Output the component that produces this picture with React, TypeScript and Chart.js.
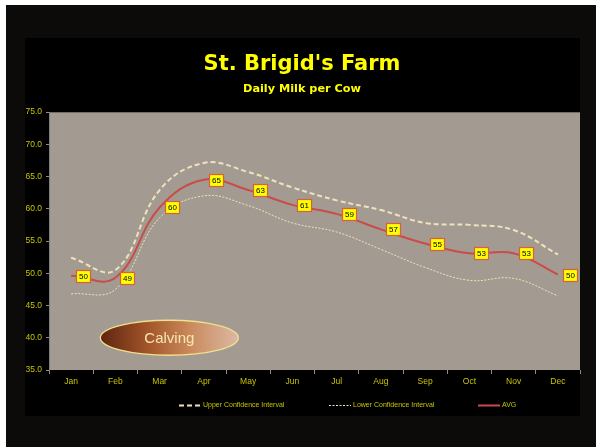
import React, { useEffect, useRef } from "react";
import { Chart, registerables } from "chart.js";

Chart.register(...registerables);

// ---- data ----
const months = ["Jan", "Feb", "Mar", "Apr", "May", "Jun", "Jul", "Aug", "Sep", "Oct", "Nov", "Dec"];
const upperCI = [52.4, 50.5, 62.9, 67.1, 65.7, 63.3, 61.3, 59.8, 57.8, 57.5, 56.7, 52.9];
const lowerCI = [46.8, 47.5, 58.6, 62.0, 60.5, 57.8, 56.4, 53.7, 50.9, 48.9, 49.2, 46.5];
const avgMilk = [49.6, 49.3, 60.2, 64.5, 62.9, 60.6, 59.2, 56.8, 54.6, 53.1, 53.1, 49.8];
const seriesNames = ["Upper Confidence Interval", "Lower Confidence Interval", "AVG"];
const yMin = 35;
const yMax = 75;
const yStep = 5;
const chartTitle = "St. Brigid's Farm";
const chartSubtitle = "Daily Milk per Cow";
const noteText = "Calving";
const notePos = { x: 2.22, y: 40 }; // category index / value

const W = 596;
const H = 447;
const TEXT_YELLOW = "#c8c400";
const CREAM = "#f2e2bc";
const RED = "#c94c4a";
const SANS = '"Liberation Sans", Arial, sans-serif';
const TITLE_FONT = '"DejaVu Sans", "Noto Sans", sans-serif';

function fitFontSize(ctx: CanvasRenderingContext2D, text: string, family: string, weight: string, target: number) {
  ctx.font = `${weight} 20px ${family}`;
  const w = ctx.measureText(text).width;
  return (20 * target) / w;
}

const framePlugin = {
  id: "frame",
  beforeDraw(chart: any) {
    const { ctx, chartArea: a } = chart;
    ctx.save();
    ctx.fillStyle = "#ffffff";
    ctx.fillRect(0, 0, W, H);
    ctx.fillStyle = "#0c0b09";
    ctx.fillRect(6, 5, W - 6, H - 5);
    ctx.fillStyle = "#000000";
    ctx.fillRect(25, 38, 555, 378);
    ctx.fillStyle = "#a39b91";
    ctx.fillRect(a.left, a.top, a.right - a.left, a.bottom - a.top);
    ctx.strokeStyle = "#6f6b66";
    ctx.lineWidth = 1;
    ctx.beginPath();
    ctx.moveTo(a.left, a.top + 0.5);
    ctx.lineTo(a.right, a.top + 0.5);
    ctx.stroke();

    // titles
    ctx.fillStyle = "#ffff00";
    ctx.textAlign = "center";
    ctx.textBaseline = "middle";
    let s = fitFontSize(ctx, chartTitle, TITLE_FONT, "bold", 197);
    ctx.font = `bold ${s}px ${TITLE_FONT}`;
    ctx.fillText(chartTitle, 302, 65);
    s = fitFontSize(ctx, chartSubtitle, TITLE_FONT, "bold", 118);
    ctx.font = `bold ${s}px ${TITLE_FONT}`;
    ctx.fillText(chartSubtitle, 302, 89);
    ctx.restore();
  },
  beforeDatasetsDraw(chart: any) {
    const { ctx } = chart;
    const xs = chart.scales.x;
    const ys = chart.scales.y;
    const cx = xs.getPixelForValue(notePos.x);
    const cy = ys.getPixelForValue(notePos.y);
    const rx = 69;
    const ry = 17.5;
    ctx.save();
    const g = ctx.createLinearGradient(cx - rx, 0, cx + rx, 0);
    g.addColorStop(0, "#5e2410");
    g.addColorStop(0.35, "#a4562a");
    g.addColorStop(0.65, "#c98a5c");
    g.addColorStop(1, "#dcb9a6");
    ctx.beginPath();
    ctx.ellipse(cx, cy, rx, ry, 0, 0, Math.PI * 2);
    ctx.fillStyle = g;
    ctx.fill();
    ctx.strokeStyle = "#f0e08c";
    ctx.lineWidth = 1.3;
    ctx.stroke();
    ctx.fillStyle = "#f6e7b2";
    ctx.font = `15px ${SANS}`;
    ctx.textAlign = "center";
    ctx.textBaseline = "middle";
    ctx.fillText(noteText, cx, cy + 1);
    ctx.restore();
  },
  afterDatasetsDraw(chart: any) {
    const { ctx } = chart;
    const meta = chart.getDatasetMeta(2);
    const data = chart.data.datasets[2].data as number[];
    ctx.save();
    ctx.font = `8px ${SANS}`;
    ctx.textAlign = "center";
    ctx.textBaseline = "middle";
    meta.data.forEach((pt: any, i: number) => {
      const txt = String(Math.round(data[i]));
      const tw = ctx.measureText(txt).width;
      const bw = Math.round(tw + 5);
      const bh = 12;
      const x0 = Math.round(pt.x + 5) + 0.5;
      const y0 = Math.round(pt.y - bh / 2) + 0.5;
      ctx.fillStyle = "#ffff00";
      ctx.fillRect(x0, y0, bw, bh);
      ctx.strokeStyle = "#d8603e";
      ctx.lineWidth = 1.2;
      ctx.strokeRect(x0, y0, bw, bh);
      ctx.fillStyle = "#000000";
      ctx.fillText(txt, x0 + bw / 2, y0 + bh / 2 + 0.5);
    });
    ctx.restore();
  },
  afterDraw(chart: any) {
    const { ctx } = chart;
    const starts = [179, 329, 478];
    const y = 405.5;
    ctx.save();
    chart.data.datasets.forEach((ds: any, i: number) => {
      const x = starts[i];
      ctx.strokeStyle = ds.borderColor;
      ctx.lineWidth = ds.borderWidth;
      ctx.setLineDash(ds.borderDash || []);
      ctx.beginPath();
      ctx.moveTo(x, y);
      ctx.lineTo(x + 22, y);
      ctx.stroke();
      ctx.setLineDash([]);
      ctx.fillStyle = TEXT_YELLOW;
      ctx.font = `7px ${SANS}`;
      ctx.textAlign = "left";
      ctx.textBaseline = "middle";
      ctx.fillText(ds.label, x + 24, y);
    });
    ctx.restore();
  },
};

export default function App() {
  const ref = useRef<HTMLCanvasElement | null>(null);

  useEffect(() => {
    if (!ref.current) return;
    const chart = new Chart(ref.current, {
      type: "line",
      data: {
        labels: months,
        datasets: [
          {
            label: seriesNames[0],
            data: upperCI,
            borderColor: CREAM,
            borderWidth: 2,
            borderDash: [5, 3],
            pointRadius: 0,
            tension: 0.4,
            fill: false,
          },
          {
            label: seriesNames[1],
            data: lowerCI,
            borderColor: CREAM,
            borderWidth: 1,
            borderDash: [2, 1.5],
            pointRadius: 0,
            tension: 0.4,
            fill: false,
          },
          {
            label: seriesNames[2],
            data: avgMilk,
            borderColor: RED,
            borderWidth: 2,
            pointRadius: 0,
            tension: 0.4,
            fill: false,
          },
        ],
      },
      options: {
        responsive: false,
        animation: false,
        devicePixelRatio: 1,
        layout: { padding: { left: 25, right: 16, top: 112, bottom: 47 } },
        plugins: {
          legend: { display: false },
          title: { display: false },
          tooltip: { enabled: false },
        },
        scales: {
          x: {
            type: "category",
            offset: true,
            grid: {
              display: true,
              offset: true,
              drawOnChartArea: false,
              drawTicks: true,
              tickLength: 4,
              color: "#8a8a8a",
            },
            border: { display: false },
            ticks: {
              color: TEXT_YELLOW,
              font: { size: 8.5, family: SANS },
              padding: 3,
              maxRotation: 0,
              autoSkip: false,
            },
            afterFit(scale: any) {
              scale.height = 30;
            },
          },
          y: {
            min: yMin,
            max: yMax,
            grid: {
              display: true,
              drawOnChartArea: false,
              drawTicks: true,
              tickLength: 3,
              color: "#8a8a8a",
            },
            border: { display: true, color: "#7e7e7e", width: 1 },
            ticks: {
              stepSize: yStep,
              color: TEXT_YELLOW,
              font: { size: 8.5, family: SANS },
              padding: 4,
              callback: (v: any) => Number(v).toFixed(1),
            },
            afterFit(scale: any) {
              scale.width = 24;
            },
          },
        },
      },
      plugins: [framePlugin],
    });
    return () => chart.destroy();
  }, []);

  return (
    <div style={{ position: "absolute", left: 0, top: 0, width: W, height: H }}>
      <canvas ref={ref} width={W} height={H} style={{ display: "block", width: W, height: H }} />
    </div>
  );
}
